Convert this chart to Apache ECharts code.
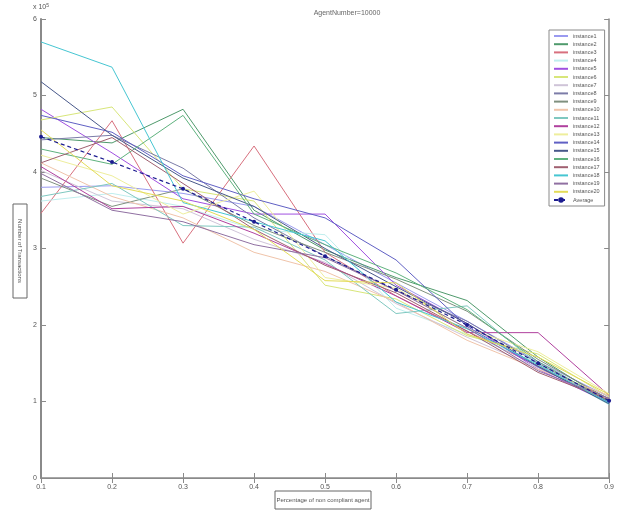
<!DOCTYPE html>
<html>
<head>
<meta charset="utf-8">
<script src="https://cdn.jsdelivr.net/npm/echarts@6/dist/echarts.min.js"></script>
<style>html,body{margin:0;padding:0;background:#fff}#c{width:617px;height:513px}</style>
</head>
<body>
<div id="c"></div>
<script>
var xValues = [0.1, 0.2, 0.3, 0.4, 0.5, 0.6, 0.7, 0.8, 0.9];
var yTicks = [0, 1, 2, 3, 4, 5, 6];
var seriesNames = ['instance1','instance2','instance3','instance4','instance5','instance6','instance7','instance8','instance9','instance10','instance11','instance12','instance13','instance14','instance15','instance16','instance17','instance18','instance19','instance20'];
var seriesColors = ['#9a9af0','#4f9a6c','#d8707e','#bfeeee','#a050e0','#d8e67a','#cfc4d8','#7c7ca8','#7f907f','#f0c4aa','#7fc8c0','#b0409e','#eeee9c','#6060c4','#48588a','#5fb27e','#a06070','#46c6d2','#9070a2','#e4dc58'];
var inst1  = [3.80, 3.82, 3.72, 3.55, 3.05, 2.55, 2.05, 1.52, 1.06];
var inst2  = [4.45, 4.38, 4.82, 3.50, 2.98, 2.62, 2.32, 1.58, 1.00];
var inst3  = [3.46, 4.67, 3.07, 4.34, 2.95, 2.38, 1.92, 1.46, 1.04];
var inst4  = [3.62, 3.72, 3.55, 3.25, 3.18, 2.22, 1.88, 1.50, 0.97];
var inst5  = [4.82, 4.25, 3.65, 3.45, 3.45, 2.52, 2.02, 1.42, 0.98];
var inst6  = [4.68, 4.85, 3.78, 3.62, 2.52, 2.34, 1.86, 1.62, 1.06];
var inst7  = [4.02, 3.62, 3.52, 3.12, 2.82, 2.28, 1.84, 1.44, 1.02];
var inst8  = [4.42, 4.48, 4.05, 3.40, 2.90, 2.45, 2.05, 1.50, 1.00];
var inst9  = [3.92, 3.55, 3.78, 3.30, 2.95, 2.60, 2.18, 1.55, 1.03];
var inst10 = [4.12, 3.68, 3.40, 2.95, 2.70, 2.30, 1.80, 1.42, 1.08];
var inst11 = [3.68, 3.85, 3.30, 3.28, 2.85, 2.15, 2.25, 1.48, 0.96];
var inst12 = [4.07, 3.52, 3.55, 3.20, 2.80, 2.38, 1.90, 1.90, 1.08];
var inst13 = [4.22, 3.95, 3.45, 3.75, 2.62, 2.48, 1.95, 1.65, 1.10];
var inst14 = [4.74, 4.52, 3.95, 3.65, 3.40, 2.85, 1.98, 1.45, 0.99];
var inst15 = [5.18, 4.48, 3.92, 3.55, 3.00, 2.50, 2.02, 1.46, 0.97];
var inst16 = [4.30, 4.10, 4.74, 3.45, 3.05, 2.68, 2.20, 1.52, 1.00];
var inst17 = [4.12, 4.45, 3.85, 3.25, 2.78, 2.42, 1.92, 1.38, 1.02];
var inst18 = [5.70, 5.37, 3.60, 3.35, 3.10, 2.30, 1.95, 1.48, 0.98];
var inst19 = [3.98, 3.50, 3.35, 3.05, 2.88, 2.45, 1.96, 1.40, 1.04];
var inst20 = [4.55, 3.82, 3.62, 3.25, 2.58, 2.55, 1.88, 1.58, 1.09];
var average = [4.46, 4.13, 3.78, 3.35, 2.90, 2.46, 2.00, 1.50, 1.01];
var instances = [inst1,inst2,inst3,inst4,inst5,inst6,inst7,inst8,inst9,inst10,inst11,inst12,inst13,inst14,inst15,inst16,inst17,inst18,inst19,inst20];

function pairs(vals){ return vals.map(function(v,i){ return [xValues[i], v]; }); }

var series = instances.map(function(vals, i){
  return { name: seriesNames[i], type: 'line', data: pairs(vals), symbol: 'none',
    lineStyle: { width: 1, color: seriesColors[i] }, itemStyle: { color: seriesColors[i] }, z: 2 };
});
series.push({ name: 'Average', type: 'line', data: pairs(average), symbol: 'circle', symbolSize: 4,
  lineStyle: { width: 1.2, color: '#1c1c90', type: [4, 3] }, itemStyle: { color: '#1c1c90' }, z: 5 });

var legendData = seriesNames.map(function(n){ return { name: n, itemStyle: { opacity: 0 } }; });
legendData.push({ name: 'Average', itemStyle: { opacity: 1 } });

var font = 'Liberation Sans, Arial, sans-serif';
var axisCol = '#8a8a8a';
var chart = echarts.init(document.getElementById('c'), null, { renderer: 'canvas' });
chart.setOption({
  animation: false,
  backgroundColor: '#fff',
  title: { text: 'AgentNumber=10000', left: 342, top: 5, textAlign: 'center',
    textStyle: { fontSize: 7, fontWeight: 'normal', color: '#666', fontFamily: font } },
  grid: { left: 41, right: 5, top: 19, bottom: 35 },
  legend: {
    orient: 'vertical', left: 549, top: 30, data: legendData,
    itemWidth: 14, itemHeight: 7, itemGap: 2.2, padding: [3, 5, 3, 4],
    backgroundColor: '#fff', borderColor: '#8a8a8a', borderWidth: 1,
    textStyle: { fontSize: 5.5, color: '#555', fontFamily: font }
  },
  xAxis: [{
    type: 'value', min: 0.1, max: 0.9, interval: 0.1,
    axisLine: { lineStyle: { color: axisCol, width: 1.5 } },
    axisTick: { inside: true, length: 5, lineStyle: { color: axisCol } },
    axisLabel: { fontSize: 7, color: '#555', fontFamily: font, margin: 6,
      formatter: function(v){ return (Math.round(v*10)/10).toString(); } },
    splitLine: { show: false }
  }, {
    type: 'value', position: 'top', min: 0.1, max: 0.9, interval: 0.1,
    axisLine: { show: true, lineStyle: { color: axisCol, width: 1.2 } },
    axisTick: { inside: true, length: 5, lineStyle: { color: axisCol } },
    axisLabel: { show: false }, splitLine: { show: false }
  }],
  yAxis: [{
    type: 'value', min: yTicks[0], max: yTicks[yTicks.length-1], interval: 1,
    axisLine: { show: true, lineStyle: { color: axisCol, width: 2 } },
    axisTick: { show: true, inside: true, length: 5, lineStyle: { color: axisCol } },
    axisLabel: { fontSize: 7, color: '#555', fontFamily: font, margin: 4 },
    splitLine: { show: false }
  }, {
    type: 'value', position: 'right', min: yTicks[0], max: yTicks[yTicks.length-1], interval: 1,
    axisLine: { show: true, lineStyle: { color: axisCol, width: 1.5 } },
    axisTick: { show: true, inside: true, length: 5, lineStyle: { color: axisCol } },
    axisLabel: { show: false }, splitLine: { show: false }
  }],
  graphic: [
    { type: 'text', left: 33, top: 3, style: { text: 'x 10{s|5}', rich: { s: { fontSize: 5, verticalAlign: 'top', padding: [0,0,4,0] } },
      fontSize: 7, fill: '#555', fontFamily: font } },
    { type: 'group', x: 20, y: 251, rotation: -Math.PI/2, children: [
      { type: 'rect', shape: { x: -47, y: -7, width: 94, height: 14 }, style: { fill: '#fff', stroke: '#666', lineWidth: 1 } },
      { type: 'text', x: 0, y: 0, style: { text: 'Number of Transactions', align: 'center', verticalAlign: 'middle', fontSize: 6, fill: '#555', fontFamily: font } }
    ] },
    { type: 'group', x: 323, y: 500, children: [
      { type: 'rect', shape: { x: -48, y: -9, width: 96, height: 18 }, style: { fill: '#fff', stroke: '#666', lineWidth: 1 } },
      { type: 'text', x: 0, y: 0, style: { text: 'Percentage of non compliant agent', align: 'center', verticalAlign: 'middle', fontSize: 6, fill: '#555', fontFamily: font } }
    ] }
  ],
  series: series
});
</script>
</body>
</html>
